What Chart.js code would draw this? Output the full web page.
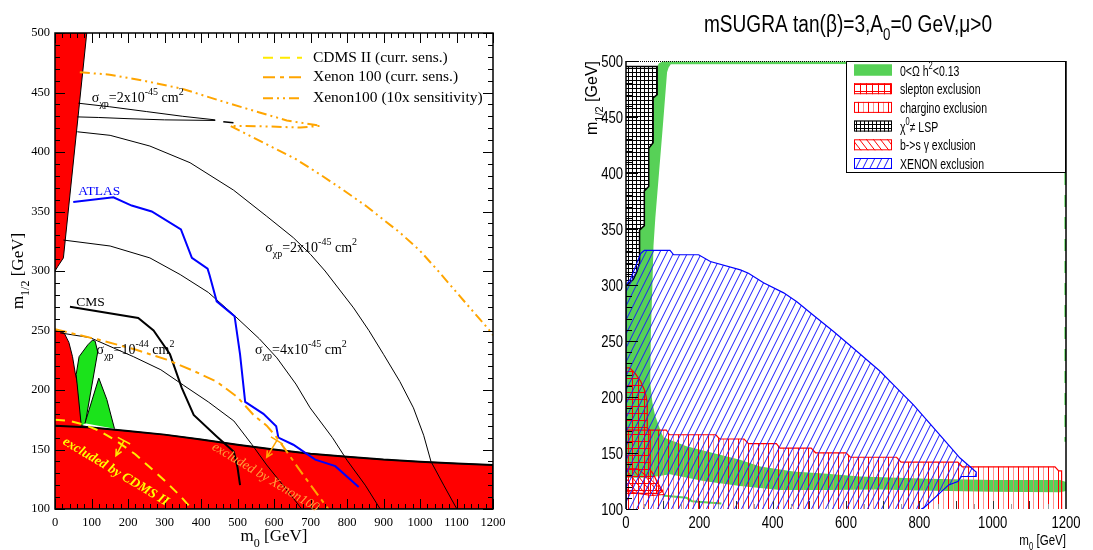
<!DOCTYPE html>
<html>
<head>
<meta charset="utf-8">
<title>mSUGRA exclusion planes</title>
<script src="https://cdn.jsdelivr.net/npm/chart.js@4.4.0/dist/chart.umd.min.js"></script>
<style>
  html, body { margin: 0; padding: 0; background: #fff; }
  #wrap { position: relative; width: 1093px; height: 550px; overflow: hidden; }
  canvas { position: absolute; top: 0; }
  #left { left: 0; }
  #right { left: 548px; }
</style>
</head>
<body>
<div id="wrap">
  <canvas id="left" width="545" height="550"></canvas>
  <canvas id="right" width="545" height="550"></canvas>
</div>
<script>
'use strict';

// ---------- tick labels ----------
const leftXTicks = [0, 100, 200, 300, 400, 500, 600, 700, 800, 900, 1000, 1100, 1200];
const leftYTicks = [100, 150, 200, 250, 300, 350, 400, 450, 500];
const rightXTicks = [0, 200, 400, 600, 800, 1000, 1200];
const rightYTicks = [100, 150, 200, 250, 300, 350, 400, 450, 500];

// ---------- left panel: [m0, m1/2] in GeV ----------
const redWedge = [[0, 300], [8, 304], [23, 311], [87, 500], [0, 500]];
const redLower = [[0, 251], [8, 250], [25, 248], [38, 240], [48, 228], [55, 215], [62, 205], [68, 190], [74, 170],
  [100, 168.5], [200, 165.5], [300, 162.5], [400, 158.5], [500, 154], [600, 150], [700, 146.5], [800, 144],
  [900, 141.5], [1000, 139.8], [1100, 138.3], [1200, 137], [1200, 100], [0, 100]];
const lepBound = [[0, 170], [100, 168.5], [200, 165.5], [300, 162.5], [400, 158.5], [500, 154], [600, 150],
  [700, 146.5], [800, 144], [900, 141.5], [1000, 139.8], [1100, 138.3], [1200, 137]];
const greenA = [[72, 170], [58, 213], [66, 228], [90, 238], [103, 242], [110, 241], [117, 232], [83, 172]];
const greenB = [[82, 172], [120, 210], [142, 192], [163, 167.5]];

const sigma2a = [[64, 441], [150, 438], [250, 434], [350, 430], [439, 427]];
const sigma2b = [[61, 429.5], [120, 429], [200, 428], [300, 427], [439, 426.5]];
const sigma2c = [[461, 425.5], [489, 424.5]];
const sigma2 = [[61, 417], [151, 414], [260, 405], [370, 391], [489, 368], [580, 346], [653, 328], [700, 314],
  [740, 300], [818, 269], [860, 250], [900, 230], [945, 207], [982, 185], [1010, 162], [1030, 140], [1065, 120], [1101, 100]];
const sigma4 = [[23, 326], [151, 321], [260, 311], [343, 297], [420, 282], [490, 263], [560, 243], [608, 227],
  [660, 205], [699, 185], [760, 160], [800, 141], [850, 120], [891, 100]];
const sigma10 = [[14, 248], [96, 244], [215, 228], [290, 217], [352, 204], [420, 190], [490, 174], [540, 154],
  [580, 137], [630, 118], [676, 100]];
const cms = [[41, 270], [228, 260.5], [270, 250], [315, 230], [347, 202], [380, 179], [443, 161], [490, 148],
  [500, 135], [507, 120]];
const atlas = [[50, 358], [160, 362], [210, 355], [265, 350], [345, 335], [375, 311], [418, 302], [423, 297],
  [443, 274.5], [492, 262], [507, 230], [521, 190], [571, 180], [606, 169.5], [612, 160], [653, 154], [713, 141.5],
  [768, 136], [832, 118.5]];
const cdmsNow = [[0, 175], [40, 174], [78, 171], [120, 166], [169, 157], [220, 146], [260, 135], [300, 124],
  [340, 112], [375, 100]];
const xenonNow = [[0, 251], [123, 242], [220, 234], [306, 225.5], [380, 216], [443, 207], [500, 194], [544, 179],
  [580, 170], [608, 160], [640, 146], [672, 132], [710, 116], [749, 100]];
const xenon10x = [[68, 467], [150, 465], [242, 460], [350, 453], [443, 444], [535, 435.5], [635, 426.5], [727, 422],
  [672, 420.5], [580, 421.5], [480, 422], [589, 405], [660, 394], [727, 381], [790, 368], [855, 354], [946, 332],
  [1000, 317], [1047, 301], [1120, 275], [1188, 251], [1200, 246]];

// ---------- right panel: [m0, m1/2] in GeV ----------
const omegaBand = [[0, 128], [0, 300], [7, 301], [20, 305], [30, 312], [37, 320], [37, 349], [50, 353], [50, 384],
  [62, 388], [62, 422], [74, 427], [74, 467], [85, 470], [85, 495], [90, 498], [100, 499.6], [1200, 499.6],
  [1200, 497.6], [122, 497], [116, 494], [112, 490], [100, 440], [90, 400], [80, 360], [75, 335], [72, 300],
  [68, 260], [66, 230], [66, 213], [72, 195], [79, 184], [94, 170], [102, 164], [165, 156], [256, 148.5],
  [311, 144], [366, 138], [457, 133.5], [548, 131.5], [638, 129], [820, 127], [1000, 126], [1184, 126],
  [1200, 124], [1200, 116], [1184, 115], [1000, 115.5], [800, 116.5], [693, 117.5], [550, 117], [420, 117],
  [311, 120.6], [211, 125], [120, 131], [60, 128]];
const omegaThin = [[100, 112], [165, 110], [180, 107], [260, 105]];
const omegaEdge = [[1198, 400], [1198, 160]];
const chargino = [[0, 100], [0, 170.5], [110, 170.5], [118, 166.3], [245, 166.3], [255, 162.5], [322, 162.5],
  [334, 158.3], [410, 158.3], [420, 154.4], [505, 154.4], [517, 150.2], [600, 150.2], [612, 146.2], [738, 146.2],
  [750, 141.8], [905, 141.8], [917, 137.7], [1170, 137.7], [1180, 134], [1188, 134], [1188, 100]];
const slepton = [[0, 226], [10, 226], [25, 221], [40, 214], [52, 205], [58, 195], [58, 172], [66, 170], [66, 135],
  [75, 131], [85, 124], [100, 116], [90, 114], [0, 114]];
const bsg = [[0, 136], [30, 136], [55, 130], [85, 121], [105, 113], [70, 112], [30, 114], [0, 116]];
const notLsp = [[0, 495], [85, 495], [85, 470], [74, 467], [74, 427], [62, 422], [62, 388], [50, 384], [50, 353],
  [37, 349], [37, 320], [30, 312], [20, 305], [7, 301], [0, 300]];
const xenonExcl = [[0, 100], [0, 300], [12, 305], [40, 328], [50, 331], [120, 331], [130, 327], [198, 327],
  [230, 321], [312, 313.5], [334, 310.5], [375, 302], [430, 293], [466, 285], [511, 273], [566, 258.5],
  [620, 243.5], [693, 223], [729, 211], [784, 193], [848, 169], [911, 145.5], [955, 133], [955, 129], [915, 129],
  [905, 124.5], [880, 121.5], [812, 101], [805, 100]];

const serif = "'Liberation Serif', 'Times New Roman', serif";
const sans = "'Liberation Sans', Arial, sans-serif";
const NARROW = 0.77;   // horizontal squeeze that gives sans text a narrow cut

const pts = arr => arr.map(([x, y]) => ({x, y}));

// hatch fills
function makePattern(w, h, bg, paint) {
  const c = document.createElement('canvas');
  c.width = w;
  c.height = h;
  const g = c.getContext('2d');
  if (bg) {
    g.fillStyle = bg;
    g.fillRect(0, 0, w, h);
  }
  paint(g, w, h);
  return g.createPattern(c, 'repeat');
}

const xenonHatch = makePattern(7, 14, null, (g, w, h) => {
  g.strokeStyle = '#1a1aff';
  g.lineWidth = 1;
  g.beginPath();
  for (const dx of [-w, 0, w]) { g.moveTo(dx, h); g.lineTo(dx + w, 0); }
  g.stroke();
});
const bsgHatch = makePattern(7, 9, null, (g, w, h) => {
  g.strokeStyle = '#ff0000';
  g.lineWidth = 1;
  g.beginPath();
  for (const dx of [-w, 0, w]) { g.moveTo(dx, 0); g.lineTo(dx + w, h); }
  g.stroke();
});
const charginoHatch = makePattern(10, 2, null, g => {
  g.fillStyle = '#ff0000';
  g.fillRect(0, 0, 1, 2);
  g.fillStyle = 'rgba(255,110,110,0.75)';
  g.fillRect(5, 0, 1, 2);
});
const sleptonHatch = makePattern(6, 7, null, g => {
  g.fillStyle = '#ff0000';
  g.fillRect(0, 0, 1, 7);
  g.fillRect(0, 0, 6, 1);
});
const lspHatch = makePattern(4, 4, '#ffffff', g => {
  g.fillStyle = '#000000';
  g.fillRect(0, 0, 1, 4);
  g.fillRect(0, 0, 4, 1);
});

// text with sub/superscripts: parts = [[text, 'n'|'sub'|'sup'], ...]
function richText(ctx, parts, x, y, size, family, align, style, sx) {
  const pre = style ? style + ' ' : '';
  const k = sx || 1;
  const small = Math.round(size * 0.68);
  let w = 0;
  const items = parts.map(([t, kind]) => {
    const fs = kind === 'n' ? size : small;
    ctx.font = `${pre}${fs}px ${family}`;
    const it = {t, kind, fs, dx: w};
    w += ctx.measureText(t).width;
    return it;
  });
  let x0 = x;
  if (align === 'center') x0 = x - w * k / 2;
  else if (align === 'right') x0 = x - w * k;
  ctx.save();
  ctx.translate(x0, y);
  ctx.scale(k, 1);
  ctx.textAlign = 'left';
  ctx.textBaseline = 'alphabetic';
  for (const it of items) {
    ctx.font = `${pre}${it.fs}px ${family}`;
    const dy = it.kind === 'sub' ? size * 0.36 : it.kind === 'sup' ? -size * 0.48 : 0;
    ctx.fillText(it.t, it.dx, dy);
  }
  ctx.restore();
  return w * k;
}

function line(data, color, width, dash) {
  return {data: pts(data), borderColor: color, borderWidth: width, borderDash: dash || [], fill: false};
}
function area(data, bg, border, width) {
  return {data: pts(data), backgroundColor: bg, borderColor: border || 'rgba(0,0,0,0)', borderWidth: width || 0, fill: 'shape'};
}
// first entry is painted first (bottom)
function stacked(list) {
  return list.map((d, i) => Object.assign({order: list.length - i, pointRadius: 0, tension: 0}, d));
}

function axes(cfg) {
  return {
    x: {
      type: 'linear', min: 0, max: 1200,
      grid: {display: false, drawTicks: false}, border: {display: false},
      ticks: {display: cfg.labels, font: cfg.font, color: '#000', padding: cfg.xPad, maxRotation: 0, autoSkip: false, callback: v => String(v)},
      afterBuildTicks: s => { s.ticks = cfg.xTicks.map(v => ({value: v})); },
      afterFit: s => { s.height = cfg.xH; }
    },
    y: {
      type: 'linear', min: 100, max: 500,
      grid: {display: false, drawTicks: false}, border: {display: false},
      ticks: {display: cfg.labels, font: cfg.font, color: '#000', padding: cfg.yPad, autoSkip: false, callback: v => String(v)},
      afterBuildTicks: s => { s.ticks = cfg.yTicks.map(v => ({value: v})); },
      afterFit: s => { s.width = cfg.yW; }
    }
  };
}

function arrow(ctx, x1, y1, x2, y2, color) {
  const ang = Math.atan2(y2 - y1, x2 - x1);
  const nx = -Math.sin(ang), ny = Math.cos(ang);
  ctx.strokeStyle = color;
  ctx.lineWidth = 1.5;
  ctx.beginPath();
  ctx.moveTo(x1 - nx * 7, y1 - ny * 7);
  ctx.lineTo(x1 + nx * 7, y1 + ny * 7);
  ctx.moveTo(x1, y1);
  ctx.lineTo(x2, y2);
  ctx.moveTo(x2 - Math.cos(ang - 0.45) * 7, y2 - Math.sin(ang - 0.45) * 7);
  ctx.lineTo(x2, y2);
  ctx.lineTo(x2 - Math.cos(ang + 0.45) * 7, y2 - Math.sin(ang + 0.45) * 7);
  ctx.stroke();
}

// ---------- left panel decorations ----------
const leftDecor = {
  id: 'leftDecor',
  afterDatasetsDraw(chart) {
    const {ctx, chartArea: a, scales: {x, y}} = chart;
    const px = v => x.getPixelForValue(v);
    const py = v => y.getPixelForValue(v);
    ctx.save();

    ctx.strokeStyle = '#000';
    ctx.lineWidth = 1;
    ctx.beginPath();
    for (let v = 0; v <= 1200; v += 20) {
      const len = v % 100 === 0 ? 10 : 5;
      const xx = Math.round(px(v)) + 0.5;
      ctx.moveTo(xx, a.bottom); ctx.lineTo(xx, a.bottom - len);
      ctx.moveTo(xx, a.top); ctx.lineTo(xx, a.top + len);
    }
    for (let v = 100; v <= 500; v += 10) {
      const len = v % 50 === 0 ? 10 : 5;
      const yy = Math.round(py(v)) + 0.5;
      ctx.moveTo(a.left, yy); ctx.lineTo(a.left + len, yy);
      ctx.moveTo(a.right, yy); ctx.lineTo(a.right - len, yy);
    }
    ctx.stroke();
    ctx.lineWidth = 1.5;
    ctx.strokeRect(a.left, a.top, a.right - a.left, a.bottom - a.top);

    // contour and experiment labels
    ctx.fillStyle = '#000';
    richText(ctx, [['σ', 'n'], ['χp', 'sub'], ['=2x10', 'n'], ['-45', 'sup'], [' cm', 'n'], ['2', 'sup']], px(101), py(442.3), 14, serif);
    richText(ctx, [['σ', 'n'], ['χp', 'sub'], ['=2x10', 'n'], ['-45', 'sup'], [' cm', 'n'], ['2', 'sup']], px(576), py(316), 14, serif);
    richText(ctx, [['σ', 'n'], ['χp', 'sub'], ['=10', 'n'], ['-44', 'sup'], [' cm', 'n'], ['2', 'sup']], px(114), py(230.5), 14, serif);
    richText(ctx, [['σ', 'n'], ['χp', 'sub'], ['=4x10', 'n'], ['-45', 'sup'], [' cm', 'n'], ['2', 'sup']], px(548), py(230.5), 14, serif);
    richText(ctx, [['CMS', 'n']], px(58), py(271), 13.5, serif);
    ctx.fillStyle = '#0000ff';
    richText(ctx, [['ATLAS', 'n']], px(64), py(364), 13.5, serif);

    // rotated exclusion captions
    const rot = (txt, m0, m12, color, style) => {
      ctx.save();
      ctx.translate(px(m0), py(m12));
      ctx.rotate(31 * Math.PI / 180);
      ctx.fillStyle = color;
      ctx.font = `${style} 13.5px ${serif}`;
      ctx.textAlign = 'left';
      ctx.textBaseline = 'alphabetic';
      ctx.fillText(txt, 0, 0);
      ctx.restore();
    };
    rot('excluded by CDMS II', 19, 155, '#ffff00', 'italic bold');
    rot('excluded by Xenon100', 428, 150.5, '#ff9f3a', 'italic');

    arrow(ctx, px(189), py(157.4), px(167), py(144.8), '#ffea00');
    arrow(ctx, px(608), py(157.6), px(580), py(143.4), '#ffa500');

    // legend
    const rows = [
      ['CDMS II (curr. sens.)', '#ffea00', [10, 7]],
      ['Xenon 100 (curr. sens.)', '#ffa500', [12, 5, 4, 5]],
      ['Xenon100 (10x sensitivity)', '#ffa500', [10, 4, 2, 4, 2, 4]]
    ];
    const ly = [57.7, 77.3, 98.3];
    rows.forEach(([label, color, dash], i) => {
      ctx.strokeStyle = color;
      ctx.lineWidth = 2;
      ctx.setLineDash(dash);
      ctx.beginPath();
      ctx.moveTo(a.right - 230, ly[i]);
      ctx.lineTo(a.right - 191, ly[i]);
      ctx.stroke();
      ctx.setLineDash([]);
      ctx.fillStyle = '#000';
      ctx.font = `15.5px ${serif}`;
      ctx.textAlign = 'left';
      ctx.textBaseline = 'middle';
      ctx.fillText(label, a.right - 180, ly[i]);
    });

    // axis titles
    ctx.fillStyle = '#000';
    richText(ctx, [['m', 'n'], ['0', 'sub'], [' [GeV]', 'n']], (a.left + a.right) / 2, 541, 17, serif, 'center');
    ctx.save();
    ctx.translate(23, (a.top + a.bottom) / 2);
    ctx.rotate(-Math.PI / 2);
    richText(ctx, [['m', 'n'], ['1/2', 'sub'], [' [GeV]', 'n']], 0, 0, 17, serif, 'center');
    ctx.restore();
    ctx.restore();
  }
};

new Chart(document.getElementById('left'), {
  type: 'line',
  data: {
    datasets: stacked([
      area(redWedge, '#ff0000', '#000', 1),
      area(redLower, '#ff0000', '#000', 1),
      area(greenA, '#1be31b', '#000', 1),
      area(greenB, '#1be31b', '#000', 1),
      line(sigma2a, '#000', 1),
      line(sigma2b, '#000', 1),
      line(sigma2c, '#000', 1.5),
      line(sigma2, '#000', 1),
      line(sigma4, '#000', 1),
      line(sigma10, '#000', 1),
      line(lepBound, '#000', 2),
      line(cms, '#000', 2),
      line(atlas, '#0000ff', 2),
      line(cdmsNow, '#ffea00', 2, [10, 7]),
      line(xenonNow, '#ffa500', 2, [12, 5, 4, 5]),
      line(xenon10x, '#ffa500', 2, [10, 4, 2, 4, 2, 4])
    ])
  },
  options: {
    responsive: false,
    animation: false,
    devicePixelRatio: 1,
    events: [],
    layout: {padding: {top: 33, right: 52, left: 0, bottom: 0}},
    elements: {point: {radius: 0, hitRadius: 0}},
    plugins: {legend: {display: false}, tooltip: {enabled: false}, colors: {enabled: false}},
    scales: axes({labels: true, font: {family: serif, size: 12.5}, xTicks: leftXTicks, yTicks: leftYTicks, xPad: 6, yPad: 5, xH: 41, yW: 55})
  },
  plugins: [leftDecor]
});

// ---------- right panel decorations ----------
const legendItems = [
  {label: [['0<Ω h', 'n'], ['2', 'sup'], ['<0.13', 'n']], fill: '#57d157', border: '#57d157'},
  {label: [['slepton exclusion', 'n']], fill: sleptonHatch, border: '#ff0000'},
  {label: [['chargino exclusion', 'n']], fill: charginoHatch, border: '#ff0000'},
  {label: [['χ', 'n'], ['0', 'sup'], ['≠ LSP', 'n']], fill: lspHatch, border: '#000'},
  {label: [['b->s γ exclusion', 'n']], fill: bsgHatch, border: '#ff0000'},
  {label: [['XENON exclusion', 'n']], fill: xenonHatch, border: '#0000ff'}
];

const rightDecor = {
  id: 'rightDecor',
  afterDatasetsDraw(chart) {
    const {ctx, chartArea: a, scales: {x, y}} = chart;
    const px = v => x.getPixelForValue(v);
    const py = v => y.getPixelForValue(v);
    ctx.save();

    // ticks: left axis and bottom axis, pointing inward
    ctx.strokeStyle = '#000';
    ctx.lineWidth = 1;
    ctx.beginPath();
    for (let v = 100; v <= 500; v += 10) {
      const len = v % 50 === 0 ? 12 : 6;
      const yy = Math.round(py(v)) + 0.5;
      ctx.moveTo(a.left, yy); ctx.lineTo(a.left + len, yy);
    }
    ctx.stroke();
    for (let v = 50; v < 1200; v += 50) {
      const major = v % 100 === 0;
      ctx.strokeStyle = major ? '#333' : '#999';
      ctx.beginPath();
      const xx = Math.round(px(v)) + 0.5;
      ctx.moveTo(xx, a.bottom);
      ctx.lineTo(xx, a.bottom - (major ? 8 : 5));
      ctx.stroke();
    }

    // frame
    ctx.strokeStyle = '#000';
    ctx.lineWidth = 1.5;
    ctx.beginPath();
    ctx.moveTo(a.left, a.bottom); ctx.lineTo(a.left, a.top);
    ctx.moveTo(a.right, a.top); ctx.lineTo(a.right, a.bottom);
    ctx.stroke();
    ctx.lineWidth = 1;
    ctx.setLineDash([1, 1]);
    ctx.beginPath();
    ctx.moveTo(a.left, a.top + 0.5); ctx.lineTo(a.right, a.top + 0.5);
    ctx.stroke();
    ctx.setLineDash([]);

    // tick labels in a narrow cut, placed from the scales' own ticks
    ctx.fillStyle = '#000';
    for (const t of y.ticks) {
      richText(ctx, [[String(t.value), 'n']], a.left - 3, py(t.value) + 6, 17, sans, 'right', '', NARROW);
    }
    for (const t of x.ticks) {
      richText(ctx, [[String(t.value), 'n']], px(t.value), a.bottom + 18.5, 17, sans, 'center', '', NARROW);
    }

    // legend box
    const bx = a.right - 220, by = a.top, bw = 220, bh = 112;
    ctx.fillStyle = '#fff';
    ctx.fillRect(bx, by, bw, bh);
    ctx.strokeStyle = '#000';
    ctx.lineWidth = 1;
    ctx.strokeRect(bx + 0.5, by + 0.5, bw - 1, bh - 1);
    legendItems.forEach((it, i) => {
      const cy = by + 9 + i * 18.7;
      ctx.fillStyle = it.fill;
      ctx.fillRect(bx + 8, cy - 5.5, 38, 11);
      ctx.strokeStyle = it.border;
      ctx.lineWidth = 1;
      ctx.strokeRect(bx + 8.5, cy - 5, 37, 10);
      ctx.fillStyle = '#000';
      richText(ctx, it.label, bx + 54, cy + 5.5, 14, sans, 'left', '', 0.75);
    });

    // axis titles
    ctx.fillStyle = '#000';
    richText(ctx, [['m', 'n'], ['0', 'sub'], [' [GeV]', 'n']], a.right, 545, 15, sans, 'right', '', NARROW);
    ctx.save();
    ctx.translate(49, a.top);
    ctx.rotate(-Math.PI / 2);
    richText(ctx, [['m', 'n'], ['1/2', 'sub'], [' [GeV]', 'n']], 0, 0, 16, sans, 'right');
    ctx.restore();

    // title
    richText(ctx, [['mSUGRA tan(β)=3,A', 'n'], ['0', 'sub'], ['=0 GeV,μ>0', 'n']], 300, 32, 23, sans, 'center', '', 0.83);
    ctx.restore();
  }
};

new Chart(document.getElementById('right'), {
  type: 'line',
  data: {
    datasets: stacked([
      area(omegaBand, '#57d157'),
      line(omegaThin, '#57d157', 2),
      line(omegaEdge, '#33cc33', 1.5, [12, 10]),
      area(chargino, charginoHatch, '#ff0000', 1.2),
      area(slepton, sleptonHatch, '#ff0000', 1.2),
      area(bsg, bsgHatch, '#ff0000', 1),
      area(notLsp, lspHatch, '#000', 1.5),
      area(xenonExcl, xenonHatch, '#0000ff', 1.2)
    ])
  },
  options: {
    responsive: false,
    animation: false,
    devicePixelRatio: 1,
    events: [],
    layout: {padding: {top: 61, right: 27, left: 0, bottom: 0}},
    elements: {point: {radius: 0, hitRadius: 0}},
    plugins: {legend: {display: false}, tooltip: {enabled: false}, colors: {enabled: false}},
    scales: axes({labels: false, font: {family: sans, size: 17}, xTicks: rightXTicks, yTicks: rightYTicks, xPad: 4, yPad: 4, xH: 41, yW: 78})
  },
  plugins: [rightDecor]
});
</script>
</body>
</html>
